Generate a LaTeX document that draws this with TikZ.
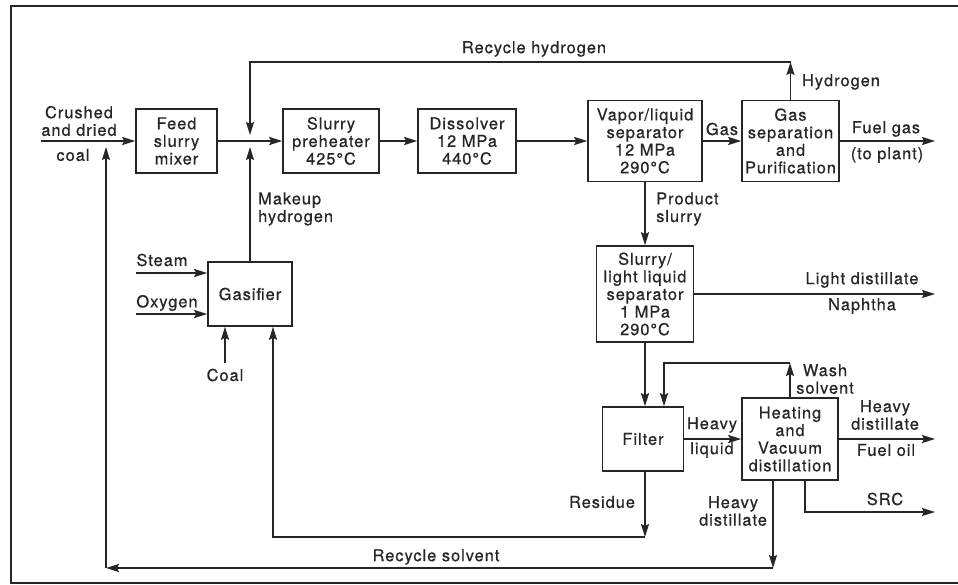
\documentclass[tikz,border=0pt]{standalone}
\usepackage{fontspec}
\setmainfont{TeX Gyre Heros}[LetterSpace=6,FakeBold=0.6]
\usetikzlibrary{arrows.meta}
\definecolor{ink}{HTML}{262626}
\begin{document}
\begin{tikzpicture}[x=1pt,y=-1pt,
  every node/.style={font=\fontsize{16.4}{17.6}\selectfont, text=ink},
  box/.style={draw=ink, line width=1.6pt, align=center, inner sep=0pt},
  arr/.style={draw=ink, line width=1.8pt, -{Stealth[length=13pt,width=8pt,inset=2pt]}},
  ln/.style={draw=ink, line width=1.2pt},
  lbl/.style={align=center, inner sep=0pt}]
\fill[white] (0,0) rectangle (958,584);
\useasboundingbox (0,0) rectangle (958,584);
\draw[ln] (962,6) -- (11,6) -- (11,583) -- (962,583);

% boxes
\node[box, minimum width=81pt, minimum height=64pt] (mixer) at (176.5,141) {Feed\\slurry\\mixer};
\node[box, minimum width=96pt, minimum height=64pt] (preheat) at (331,141) {Slurry\\preheater\\425°C};
\node[box, minimum width=98pt, minimum height=64pt] (dissolver) at (467,141) {Dissolver\\12 MPa\\440°C};
\node[box, minimum width=114pt, minimum height=81pt] (vlsep) at (645,141) {Vapor/liquid\\separator\\12 MPa\\290°C};
\node[box, minimum width=97pt, minimum height=81pt] (gassep) at (790.5,141) {Gas\\separation\\and\\Purification};
\node[box, minimum width=97pt, minimum height=96pt] (slsep) at (645,294) {Slurry/\\light liquid\\separator\\1 MPa\\290°C};
\node[box, minimum width=81pt, minimum height=64pt] (filter) at (643,439) {Filter};
\node[box, minimum width=96pt, minimum height=82pt] (heat) at (790,439) {Heating\\and\\Vacuum\\distillation};
\node[box, minimum width=84pt, minimum height=64pt] (gasifier) at (250,294) {Gasifier};

% coordinates
\coordinate (coalin) at (41,141);
\coordinate (J) at (250,141);
\coordinate (Jt) at (250,135);
\coordinate (Jb) at (250,147);
\coordinate (rh) at (790.5,62);
\coordinate (fg) at (935,141);
\coordinate (ld) at (935,294);
\coordinate (fo) at (935,439);
\coordinate (src) at (805,512);
\coordinate (srce) at (935,512);
\coordinate (ws) at (790,363);
\coordinate (wsl) at (664,363);
\coordinate (res) at (645,537);
\coordinate (resl) at (273,537);
\coordinate (rs) at (773,568);
\coordinate (rsl) at (106,568);
\coordinate (rsu) at (106,147);
\coordinate (gc) at (225,363);
\coordinate (st) at (136,273);
\coordinate (ox) at (136,314);

% connectors
\draw[arr] (coalin) -- (mixer.west);
\draw[arr] (mixer.east) -- (preheat.west);
\draw[arr] (preheat.east) -- (dissolver.west);
\draw[arr] (dissolver.east) -- (vlsep.west);
\draw[arr] (vlsep.east) -- (gassep.west);
\draw[arr] (gassep.east) -- (fg);
\draw[arr] (gassep.north) -- (rh);
\draw[arr] (rh) -- (rh -| J) -- (Jt);
\draw[arr] (gasifier.north) -- (Jb);
\draw[arr] (st) -- (st -| gasifier.west);
\draw[arr] (ox) -- (ox -| gasifier.west);
\draw[arr] (gc) -- (gc |- gasifier.south);
\draw[arr] (vlsep.south) -- (slsep.north);
\draw[arr] (slsep.east) -- (ld);
\draw[arr] (slsep.south) -- (slsep.south |- filter.north);
\draw[arr] (heat.north) -- (ws);
\draw[arr] (ws) -- (wsl) -- (wsl |- filter.north);
\draw[arr] (filter.east) -- (heat.west);
\draw[arr] (heat.east) -- (fo);
\draw[arr] (heat.south -| src) -- (src) -- (srce);
\draw[arr] (filter.south -| res) -- (res);
\draw[arr] (res) -- (resl) -- (resl |- gasifier.south);
\draw[arr] (heat.south -| rs) -- (rs);
\draw[arr] (rs) -- (rsl);
\draw[arr] (rsl) -- (rsu);

% labels
\node[lbl] (l1) at (79,121) {Crushed\\and dried};
\node[lbl] (l2) at (73,155) {coal};
\node[lbl] (l3) at (534,49) {Recycle hydrogen};
\node[lbl] (l4) at (841,82) {Hydrogen};
\node[lbl] (l5) at (722,129) {Gas};
\node[lbl] (l6) at (886,129) {Fuel gas};
\node[lbl] (l7) at (887,155) {(to plant)};
\node[lbl, align=left, anchor=west] (l8) at (258,209) {Makeup\\hydrogen};
\node[lbl, align=left, anchor=west] (l9) at (656,209) {Product\\slurry};
\node[lbl] (l10) at (162,260) {Steam};
\node[lbl] (l11) at (167,303) {Oxygen};
\node[lbl] (l12) at (225,375) {Coal};
\node[lbl] (l13) at (862,280) {Light distillate};
\node[lbl] (l14) at (862,306) {Naphtha};
\node[lbl] (l15) at (825,379) {Wash\\solvent};
\node[lbl] (l16) at (712,425) {Heavy};
\node[lbl] (l17) at (712,450) {liquid};
\node[lbl] (l18) at (885,415) {Heavy\\distillate};
\node[lbl] (l19) at (886,450) {Fuel oil};
\node[lbl] (l20) at (885,499) {SRC};
\node[lbl] (l21) at (733,511) {Heavy\\distillate};
\node[lbl] (l22) at (602,502) {Residue};
\node[lbl] (l23) at (436,557) {Recycle solvent};
\end{tikzpicture}
\end{document}
